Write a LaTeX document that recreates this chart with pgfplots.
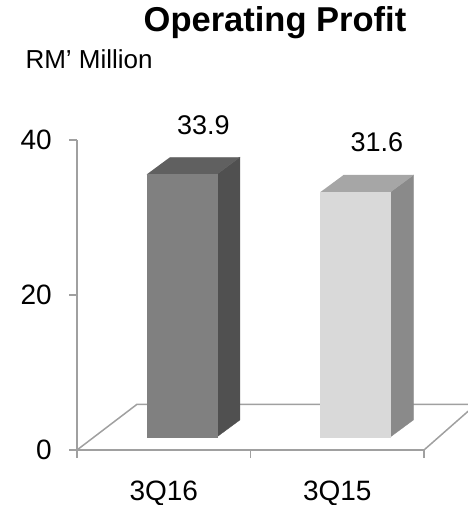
\documentclass[border=0pt]{standalone}
\usepackage{fontspec}
\setmainfont{Liberation Sans}
\usepackage{pgfplots}
\usepackage{pgfplotstable}
\pgfplotsset{compat=1.18}
\definecolor{axgray}{RGB}{160,160,160}
\definecolor{aF}{RGB}{128,128,128}
\definecolor{aS}{RGB}{80,80,80}
\definecolor{aT}{RGB}{96,96,96}
\definecolor{bF}{RGB}{217,217,217}
\definecolor{bS}{RGB}{138,138,138}
\definecolor{bT}{RGB}{166,166,166}
\pgfplotstableread[row sep=\\]{x y\\0 33.9\\1 31.6\\}\data
\pgfplotstableread[row sep=\\]{cx cd ch\\0 0 0\\1 0 0\\1 0 1\\0 0 1\\}\frontface
\pgfplotstableread[row sep=\\]{cx cd ch\\1 0 0\\1 1 0\\1 1 1\\1 0 1\\}\sideface
\pgfplotstableread[row sep=\\]{cx cd ch\\0 0 1\\1 0 1\\1 1 1\\0 1 1\\}\topface
% #1 category index, #2 value, #3 front, #4 side, #5 top colour
\newcommand\drawbar[5]{%
  \addplot[fill=#4, draw=#4, line width=0.3pt] table[x expr={#1-0.097+\thisrow{cx}*0.403+\thisrow{cd}*0.1326}, y expr={1.68+\thisrow{ch}*#2+\thisrow{cd}*2.19}] {\sideface};
  \addplot[fill=#5, draw=#5, line width=0.3pt] table[x expr={#1-0.097+\thisrow{cx}*0.403+\thisrow{cd}*0.1326}, y expr={1.68+\thisrow{ch}*#2+\thisrow{cd}*2.19}] {\topface};
  \addplot[fill=#3, draw=#3, line width=0.3pt] table[x expr={#1-0.097+\thisrow{cx}*0.403+\thisrow{cd}*0.1326}, y expr={1.68+\thisrow{ch}*#2+\thisrow{cd}*2.19}] {\frontface};
}
\newcommand\normfont{\fontsize{26pt}{30pt}\selectfont}
\newcommand\tickfont{\fontsize{28pt}{32pt}\selectfont}
\newcommand\valfont{\fontsize{27pt}{31pt}\selectfont}
\begin{document}
\begin{tikzpicture}
\useasboundingbox (0,0) rectangle (467pt,505pt);
\pgfplotstablegetelem{0}{y}\of\data \let\valA\pgfplotsretval
\pgfplotstablegetelem{1}{y}\of\data \let\valB\pgfplotsretval
\begin{axis}[
  at={(77pt,55pt)}, anchor=south west,
  scale only axis, width=347pt, height=310pt,
  xmin=-0.5, xmax=1.5, ymin=0, ymax=40,
  clip=false,
  axis lines=left,
  axis line style={draw=axgray, line width=1.5pt, -},
  /pgf/number format/assume math mode=true,
  tick align=outside,
  major tick length=8pt,
  tick style={draw=axgray, line width=1.5pt},
  ytick={0,20,40},
  xtick={0,1},
  xticklabels={3Q16,3Q15},
  xtick style={draw=none},
  extra x ticks={-0.5,0.5,1.5},
  extra x tick labels={},
  extra x tick style={xtick style={draw=axgray, line width=1.5pt}},
  tick label style={font=\tickfont},
  yticklabel style={anchor=east, inner sep=0pt, xshift=-17pt},
  xticklabel style={anchor=base, inner sep=0pt, yshift=-42pt},
  title={Operating Profit},
  title style={at={(rel axis cs:0.5705,1.332)}, anchor=base, font=\fontsize{34.5pt}{38pt}\selectfont\bfseries},
  ylabel={RM’ Million},
  every axis y label/.style={at={(rel axis cs:-0.1585,1.232)}, anchor=base west, font=\normfont},
  every node near coord/.append style={anchor=center, font=\valfont, text=black},
]
% floor outline (back part)
\addplot[draw=axgray, line width=1.5pt] coordinates {(-0.5,0) (-0.154,5.9) (1.80,5.9) (1.5,0)};
% bars
\drawbar{0}{\valA}{aF}{aS}{aT}
\drawbar{1}{\valB}{bF}{bS}{bT}
% value labels
\addplot[draw=none, mark=none, nodes near coords, point meta=explicit] table[x expr={\thisrow{x}+0.228}, y expr={1.68+\thisrow{y}+2.19+4.2}, meta=y] {\data};
\end{axis}
\end{tikzpicture}
\end{document}
